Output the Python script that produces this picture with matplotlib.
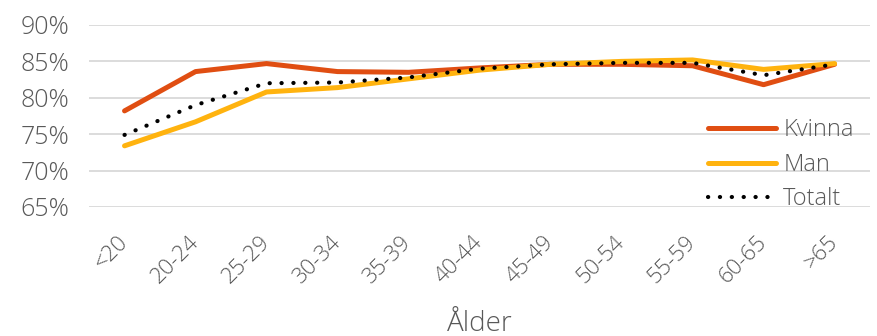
import matplotlib
matplotlib.use("Agg")
import matplotlib.pyplot as plt
from matplotlib.ticker import FuncFormatter

categories = ["<20", "20-24", "25-29", "30-34", "35-39", "40-44", "45-49",
              "50-54", "55-59", "60-65", ">65"]
kvinna = [78.2, 83.6, 84.7, 83.6, 83.5, 84.1, 84.6, 84.6, 84.4, 81.8, 84.6]
man = [73.4, 76.7, 80.8, 81.4, 82.6, 83.8, 84.6, 85.0, 85.2, 83.9, 84.7]
totalt = [74.9, 79.0, 82.0, 82.1, 82.8, 84.0, 84.6, 84.8, 84.8, 83.1, 84.6]
yticks = [65, 70, 75, 80, 85, 90]

plt.rcParams['font.family'] = ['Open Sans', 'DejaVu Sans']
grey = '#595959'

fig = plt.figure(figsize=(8.78, 3.36), dpi=100)
ax = fig.add_axes([0.1014, 0.384, 0.8896, 0.5416])

x = list(range(len(categories)))
ax.plot(x, kvinna, color='#E04E12', lw=3.6, solid_capstyle='round', label='Kvinna', zorder=3)
ax.plot(x, man, color='#FFB30F', lw=3.6, solid_capstyle='round', label='Man', zorder=4)
ax.plot(x, totalt, color='black', lw=3.0, linestyle=(0, (0.05, 2.8)),
        dash_capstyle='round', label='Totalt', zorder=5)

ax.set_xlim(-0.5, len(categories) - 0.5)
ax.set_ylim(65, 90)
ax.set_yticks(yticks)
ax.yaxis.set_major_formatter(FuncFormatter(lambda v, p: f"{v:.0f}%"))
ax.grid(axis='y', color='#D9D9D9', lw=1.3)
ax.set_axisbelow(True)
for s in ax.spines.values():
    s.set_visible(False)
ax.tick_params(axis='both', length=0, colors=grey)
ax.tick_params(axis='y', labelsize=18, pad=14)
ax.set_xticks(x)
ax.set_xticklabels(categories, rotation=45, ha='right', va='center',
                   rotation_mode='anchor', fontsize=16, color=grey,
                   fontweight='light')
for t in ax.get_yticklabels():
    t.set_fontweight('light')
ax.tick_params(axis='x', pad=23)
ax.set_xlabel('Ålder', fontsize=20, color=grey, fontweight='light', labelpad=16)

leg = ax.legend(loc='upper left', bbox_to_anchor=(0.78, 0.54), frameon=False,
                fontsize=17, handlelength=2.9, handletextpad=0.3, labelspacing=0.45,
                borderaxespad=0)
for t in leg.get_texts():
    t.set_color(grey)
    t.set_fontweight('light')

fig.savefig('out.png', dpi=100)
